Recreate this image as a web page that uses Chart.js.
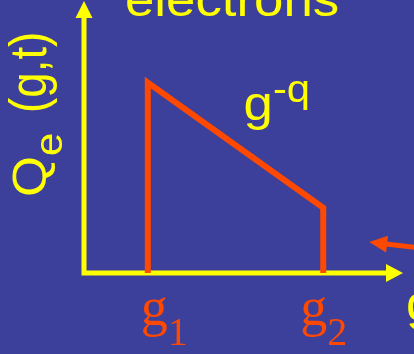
<!DOCTYPE html>
<html>
<head>
<meta charset="utf-8">
<script src="https://cdn.jsdelivr.net/npm/chart.js@4"></script>
<style>
  html, body { margin: 0; padding: 0; background: #3c409a; }
  canvas { display: block; }
</style>
</head>
<body>
<canvas id="chart" width="414" height="354"></canvas>
<script>
// distribution outline: up at g1, falling as g^-q, down at g2
const gValues = [1, 1, 3.75, 3.75];
const qValues = [0, 7, 2.4, 0];
// ticks on the g axis
const tickValues = [1, 3.75];
const tickBase = ['g', 'g'];
const tickSub = ['1', '2'];
// the orange pointer at the right edge (tail, tip)
const pointerG = [5.27, 4.47];
const pointerQ = [0.92, 1.14];

const YELLOW = '#ffff00';
const ORANGE = '#ff4800';
const SANS = '"Liberation Sans", Arial, sans-serif';
const SERIF = '"Liberation Serif", "Times New Roman", serif';

function arrowHead(ctx, tx, ty, angle, len, half) {
  ctx.save();
  ctx.translate(tx, ty);
  ctx.rotate(angle);
  ctx.beginPath();
  ctx.moveTo(0, 0);
  ctx.lineTo(-len, -half);
  ctx.lineTo(-len, half);
  ctx.closePath();
  ctx.fill();
  ctx.restore();
}

// text with a horizontal stretch in its own frame
function stretched(ctx, str, x, y, size, sx, color, family, rot) {
  ctx.save();
  ctx.translate(x, y);
  if (rot) ctx.rotate(rot);
  ctx.scale(sx, 1);
  ctx.font = size + 'px ' + (family || SANS);
  ctx.fillStyle = color;
  ctx.textBaseline = 'alphabetic';
  ctx.fillText(str, 0, 0);
  ctx.restore();
}

const decor = {
  id: 'decor',
  beforeDatasetsDraw(chart) {
    const { ctx, scales: { x, y } } = chart;
    const x0 = x.getPixelForValue(0), y0 = y.getPixelForValue(0);
    const xEnd = x.getPixelForValue(x.max), yEnd = y.getPixelForValue(y.max);
    ctx.save();
    ctx.strokeStyle = YELLOW;
    ctx.fillStyle = YELLOW;
    ctx.lineWidth = 5;
    ctx.beginPath();
    ctx.moveTo(x0, y0 + 2.5);
    ctx.lineTo(x0, yEnd + 16);
    ctx.moveTo(x0 - 2.5, y0);
    ctx.lineTo(xEnd - 15, y0);
    ctx.stroke();
    arrowHead(ctx, x0, yEnd, -Math.PI / 2, 17, 8.5);
    arrowHead(ctx, xEnd, y0, 0, 17, 9);
    ctx.restore();
  },
  afterDraw(chart) {
    const { ctx, scales: { x, y } } = chart;

    // pointer arrow
    const ax = pointerG.map(v => x.getPixelForValue(v));
    const ay = pointerQ.map(v => y.getPixelForValue(v));
    const ang = Math.atan2(ay[1] - ay[0], ax[1] - ax[0]);
    ctx.save();
    ctx.strokeStyle = ORANGE;
    ctx.fillStyle = ORANGE;
    ctx.lineWidth = 5;
    ctx.beginPath();
    ctx.moveTo(ax[0], ay[0]);
    ctx.lineTo(ax[1] - 15 * Math.cos(ang), ay[1] - 15 * Math.sin(ang));
    ctx.stroke();
    arrowHead(ctx, ax[1], ay[1], ang, 18, 8.5);
    ctx.restore();

    // tick labels g1, g2 under the axis
    const nudge = [-7, -23];
    tickValues.forEach((v, i) => {
      const px = x.getPixelForValue(v) + nudge[i];
      stretched(ctx, tickBase[i], px, 325, 54, 1, ORANGE, SERIF);
      stretched(ctx, tickSub[i], px + 27, 345, 40, 1, ORANGE, SERIF);
    });

    // titles and labels
    stretched(ctx, 'electrons', 125, 16, 48, 1.1, YELLOW);
    stretched(ctx, 'g', 243.5, 120, 48, 1.1, YELLOW);
    stretched(ctx, '-q', 272.9, 102, 38, 1.1, YELLOW);
    stretched(ctx, 'g', 406, 320, 48, 1.1, YELLOW);

    // rotated y label Qe (g,t)
    const up = -Math.PI / 2;
    stretched(ctx, 'Q', 46, 197, 48, 1.1, YELLOW, SANS, up);
    stretched(ctx, 'e', 62, 197 - 41, 38, 1.1, YELLOW, SANS, up);
    stretched(ctx, '(g,t)', 46, 113, 52, 0.88, YELLOW, SANS, up);
  }
};

new Chart(document.getElementById('chart'), {
  type: 'scatter',
  data: {
    datasets: [{
      data: gValues.map((g, i) => ({ x: g, y: qValues[i] })),
      showLine: true,
      borderColor: ORANGE,
      borderWidth: 6,
      borderJoinStyle: 'miter',
      pointRadius: 0,
      tension: 0,
      fill: false
    }]
  },
  options: {
    responsive: false,
    animation: false,
    layout: { padding: { left: 84, right: 11, top: 1, bottom: 81 } },
    plugins: { legend: { display: false }, tooltip: { enabled: false } },
    scales: {
      x: { type: 'linear', min: 0, max: 5, display: false },
      y: { type: 'linear', min: 0, max: 10, display: false }
    }
  },
  plugins: [decor]
});
</script>
</body>
</html>
